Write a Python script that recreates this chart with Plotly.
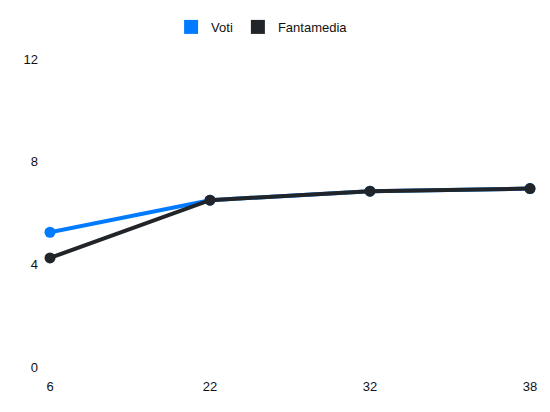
import plotly.graph_objects as go

giornate = ["6", "22", "32", "38"]
voti = [5.25, 6.5, 6.85, 6.95]
fantamedia = [4.25, 6.5, 6.85, 6.95]
y_ticks = [0, 4, 8, 12]

BLUE = "#007bff"
DARK = "#212529"

fig = go.Figure()

# real lines, legend hidden (legend uses square swatches below)
fig.add_trace(go.Scatter(x=giornate, y=voti, mode="lines+markers", name="Voti",
                         line=dict(color=BLUE, width=4), marker=dict(size=11, color=BLUE),
                         cliponaxis=False, showlegend=False))
fig.add_trace(go.Scatter(x=giornate, y=fantamedia, mode="lines+markers", name="Fantamedia",
                         line=dict(color=DARK, width=4), marker=dict(size=11, color=DARK),
                         cliponaxis=False, showlegend=False))

# legend swatches
for name, col in [("Voti", BLUE), ("Fantamedia", DARK)]:
    fig.add_trace(go.Scatter(x=[None], y=[None], mode="markers", name=name,
                             marker=dict(symbol="square", size=14, color=col)))

# page body has an 8px default margin, so margins are offset by it
fig.update_layout(
    width=550, height=412,
    margin=dict(l=42, r=28, t=51, b=53, autoexpand=False),
    paper_bgcolor="white", plot_bgcolor="white",
    font=dict(family="Liberation Sans, Arial, sans-serif", size=13, color="#111"),
    legend=dict(orientation="h", x=0.462, xanchor="center", xref="container",
                y=0.954, yanchor="middle", yref="container",
                font=dict(size=13, color="#111"), itemwidth=30),
    xaxis=dict(type="category", range=[0, 3], showgrid=False, zeroline=False,
               showline=False, ticks="", automargin=False, ticklabelstandoff=10,
               tickfont=dict(color="#111")),
    yaxis=dict(range=[0, 12], tickvals=y_ticks, showgrid=False, zeroline=False,
               showline=False, ticks="", automargin=False, ticklabelstandoff=11,
               tickfont=dict(color="#111")),
)

fig.write_html("out.html")
